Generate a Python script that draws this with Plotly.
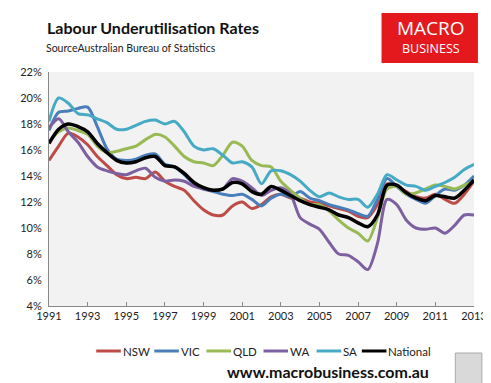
import plotly.graph_objects as go

years = [1991 + 0.5 * i for i in range(45)]

nsw = [15.2, 16.3, 17.3, 17.0, 16.4, 15.5, 14.8, 14.1, 13.8, 13.9, 13.8, 14.3, 13.6, 13.2, 12.9, 12.1,
       11.4, 11.0, 11.0, 11.7, 12.0, 11.5, 11.8, 12.4, 12.6, 12.3, 12.3, 12.0, 11.9, 11.7, 11.5, 11.3,
       10.9, 10.8, 11.8, 13.4, 13.2, 12.8, 12.4, 12.3, 12.6, 12.2, 11.9, 12.6, 13.6]
vic = [17.5, 18.9, 19.0, 19.2, 19.3, 17.8, 16.1, 15.3, 15.2, 15.3, 15.6, 15.7, 14.9, 14.7, 14.1, 13.4,
       13.0, 12.8, 12.6, 12.5, 12.6, 12.2, 11.7, 12.3, 12.6, 12.4, 12.8, 12.3, 12.1, 11.8, 11.6, 11.4,
       11.1, 10.9, 12.2, 13.8, 13.2, 12.6, 12.2, 11.9, 12.5, 13.0, 12.9, 13.3, 14.0]
qld = [16.6, 17.4, 17.7, 17.5, 17.2, 16.3, 15.8, 15.9, 16.1, 16.3, 16.8, 17.2, 17.0, 16.3, 15.5, 15.1,
       15.0, 14.8, 15.6, 16.6, 16.3, 15.2, 14.8, 14.7, 13.6, 12.9, 12.3, 11.8, 11.8, 11.3, 10.6, 10.0,
       9.6, 9.0, 10.8, 13.0, 13.2, 12.6, 12.7, 13.0, 13.3, 13.2, 13.0, 13.3, 13.6]
wa = [17.7, 18.4, 17.4, 16.6, 15.5, 14.7, 14.4, 14.2, 14.1, 14.4, 14.6, 13.9, 13.6, 13.7, 13.6, 13.2,
      13.0, 12.9, 13.0, 13.8, 13.6, 13.1, 12.5, 12.9, 13.1, 12.6, 10.8, 10.3, 9.9, 8.9, 8.0, 7.9,
      7.4, 6.8, 8.8, 12.2, 11.8, 10.6, 10.0, 9.9, 10.0, 9.6, 10.2, 11.0, 11.0]
sa = [18.2, 20.0, 19.6, 18.8, 18.7, 18.4, 18.1, 17.6, 17.6, 17.9, 18.2, 18.3, 18.0, 18.2, 17.4, 16.3,
      16.0, 16.1, 15.6, 15.0, 15.1, 14.7, 13.4, 14.4, 14.4, 14.1, 13.6, 12.9, 12.4, 12.7, 12.4, 12.2,
      12.2, 11.6, 12.6, 14.1, 13.7, 13.3, 13.2, 12.9, 13.2, 13.5, 13.9, 14.5, 14.9]
national = [16.5, 17.6, 18.0, 17.8, 17.4, 16.5, 15.8, 15.2, 15.0, 15.1, 15.4, 15.5, 14.8, 14.7, 14.2, 13.5,
            13.1, 12.9, 13.0, 13.5, 13.4, 12.8, 12.6, 13.2, 12.9, 12.5, 12.1, 11.8, 11.6, 11.4, 11.0, 10.8,
            10.4, 10.1, 11.0, 13.3, 13.3, 12.7, 12.3, 12.1, 12.5, 12.4, 12.3, 12.9, 13.7]

series_names = ["NSW", "VIC", "QLD", "WA", "SA", "National"]
series_values = [nsw, vic, qld, wa, sa, national]
series_colors = ["#BE4B48", "#4A7EBB", "#98B954", "#7D60A0", "#46AAC5", "#000000"]

x_ticks = list(range(1991, 2014, 2))
y_ticks = list(range(4, 23, 2))

FONT = "Lato"

fig = go.Figure()
for name, vals, col in zip(series_names, series_values, series_colors):
    fig.add_trace(go.Scatter(
        x=years, y=vals, name=name, mode="lines", showlegend=False,
        line=dict(color=col, width=3.5 if name == "National" else 3, shape="spline", smoothing=0.8),
    ))

fig.update_layout(
    width=491, height=383,
    margin=dict(l=40, r=19, t=64, b=85),
    paper_bgcolor="white", plot_bgcolor="#F2F2F2",
    font=dict(family=FONT, size=11, color="#222222"),
    showlegend=False,
    xaxis=dict(range=[1991, 2013], tickvals=x_ticks, ticktext=[str(v) for v in x_ticks],
               showgrid=False, zeroline=False, showline=True, linecolor="#888888", linewidth=1,
               ticks="inside", ticklen=4, tickcolor="#888888", tickfont=dict(size=11, color="#222222")),
    yaxis=dict(range=[4, 22], tickvals=y_ticks, ticktext=[f"{v}%" for v in y_ticks],
               showgrid=False, zeroline=False, showline=True, linecolor="#888888", linewidth=1,
               ticks="", ticklabelstandoff=4, tickfont=dict(size=11, color="#222222")),
)

def px(x):
    return (x - 40) / 432

def py(y):
    return (298 - y) / 234

anns = [
    dict(text="<b>Labour Underutilisation Rates</b>", x=px(36), y=py(19), xanchor="left", yanchor="middle",
         font=dict(size=16, color="#111111", family=FONT)),
    dict(text="SourceAustralian Bureau of Statistics", x=px(35), y=py(40), xanchor="left", yanchor="middle",
         font=dict(size=10.5, color="#222222", family=FONT)),
    dict(text="MACRO", x=px(428), y=py(20), xanchor="center", yanchor="middle",
         font=dict(size=19, color="white", family="Open Sans")),
    dict(text="BUSINESS", x=px(428), y=py(41), xanchor="center", yanchor="middle",
         font=dict(size=12.5, color="white", family="Open Sans")),
    dict(text="<b>www.macrobusiness.com.au</b>", x=px(324), y=py(363), xanchor="center", yanchor="middle",
         font=dict(size=16, color="#111111", family=FONT)),
]

# manual legend (positions only; names/colours from the series lists)
legend_x = [88, 147, 200, 258, 312, 358]
legend_y = 343
for name, col, lx in zip(series_names, series_colors, legend_x):
    fig.add_shape(type="line", xref="paper", yref="paper", x0=px(lx), x1=px(lx + 25),
                  y0=py(legend_y), y1=py(legend_y), line=dict(color=col, width=3))
    anns.append(dict(text=name, x=px(lx + 25), y=py(legend_y), xanchor="left", yanchor="middle",
                     font=dict(size=11.5, color="#222222", family=FONT)))

for a in anns:
    a.update(xref="paper", yref="paper", showarrow=False)
    fig.add_annotation(**a)

fig.add_shape(type="rect", xref="paper", yref="paper", x0=px(378), x1=px(476), y0=py(55), y1=py(5),
              fillcolor="#E3191E", line=dict(width=0), layer="below")
fig.add_shape(type="rect", xref="paper", yref="paper", x0=px(453), x1=px(480), y0=py(381), y1=py(345),
              fillcolor="#D9D9D9", line=dict(color="#AAAAAA", width=1), layer="above")

fig.write_html("out.html")
